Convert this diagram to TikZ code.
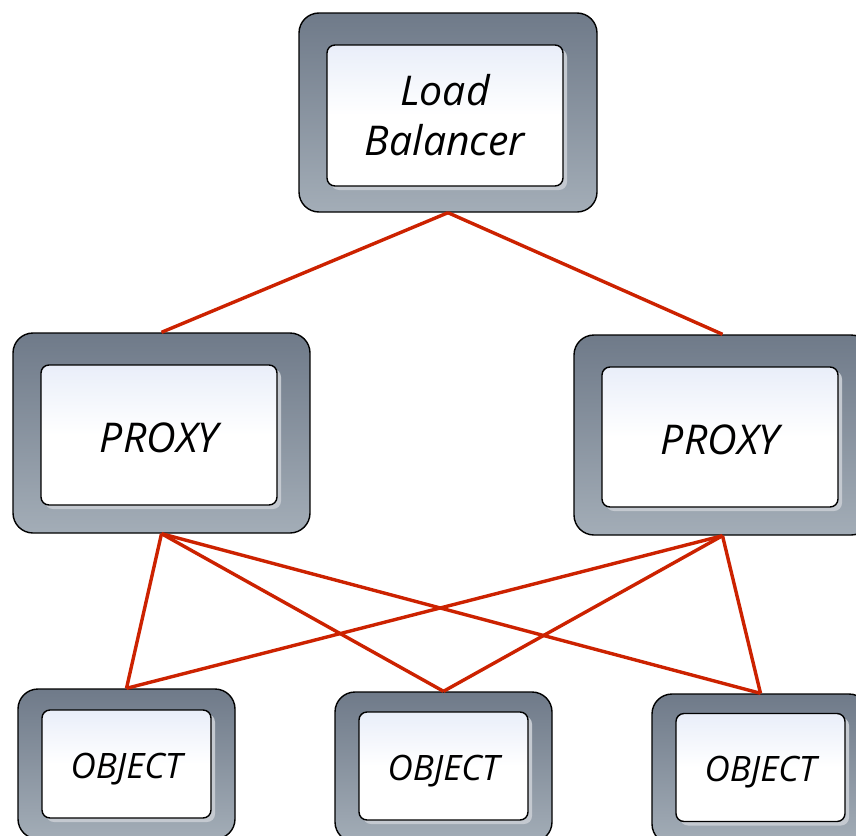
\documentclass[tikz,border=0pt]{standalone}
\usepackage{fontspec}
\setmainfont{Open Sans}
\usetikzlibrary{shadows}
\definecolor{outtop}{RGB}{111,122,137}
\definecolor{outbot}{RGB}{163,173,183}
\definecolor{intop}{RGB}{233,238,249}
\definecolor{linkred}{RGB}{204,34,0}
\definecolor{shad}{RGB}{196,201,208}
\newcommand{\lowertext}[2]{\raisebox{-#1}[\height][\depth]{#2}}
\tikzset{
  outerbox/.style={draw=black, line width=1.4pt, rounded corners=20pt,
    top color=outtop, bottom color=outbot, inner sep=0pt},
  innerbox/.style={draw=black, line width=1.4pt, rounded corners=8pt,
    top color=intop, bottom color=white, middle color=white,
    inner sep=0pt, align=center, font=\itshape,
    drop shadow={shadow xshift=4pt, shadow yshift=-4pt, fill=shad, opacity=1}},
  bigtext/.style={font=\itshape\fontsize{41}{50}\selectfont},
  smalltext/.style={font=\itshape\fontsize{35}{42}\selectfont},
  link/.style={draw=linkred, line width=3.4pt}
}
\begin{document}
\begin{tikzpicture}[x=1pt,y=-1pt]
\clip (0,0) rectangle (856,835);
\fill[white] (0,0) rectangle (856,835);
% outer boxes
\node[outerbox, minimum width=298pt, minimum height=199pt] (lb) at (448,112.5) {};
\node[outerbox, minimum width=297pt, minimum height=200pt] (p1) at (161.5,433) {};
\node[outerbox, minimum width=297pt, minimum height=200pt] (p2) at (722.5,435) {};
\node[outerbox, minimum width=217pt, minimum height=150pt] (o1) at (126.5,764) {};
\node[outerbox, minimum width=217pt, minimum height=150pt] (o2) at (443.5,767) {};
\node[outerbox, minimum width=217pt, minimum height=150pt] (o3) at (760.5,769) {};
% inner boxes
\node[innerbox, bigtext, minimum width=236pt, minimum height=141pt] (lbi) at (445,115.5) {Load\\Balancer};
\node[innerbox, bigtext, minimum width=236pt, minimum height=140pt] (p1i) at (159,435) {\lowertext{3pt}{PROXY}};
\node[innerbox, bigtext, minimum width=236pt, minimum height=140pt] (p2i) at (720,437) {\lowertext{3pt}{PROXY}};
\node[innerbox, smalltext, minimum width=169pt, minimum height=108pt] (o1i) at (126.5,764) {\lowertext{5pt}{OBJECT}};
\node[innerbox, smalltext, minimum width=169pt, minimum height=108pt] (o2i) at (443.5,766) {\lowertext{5pt}{OBJECT}};
\node[innerbox, smalltext, minimum width=169pt, minimum height=108pt] (o3i) at (760.5,767.5) {\lowertext{5pt}{OBJECT}};
% connectors
\draw[link] (lb.south) -- (p1.north);
\draw[link] (lb.south) -- (p2.north);
\draw[link] (p1.south) -- (o1.north);
\draw[link] (p1.south) -- (o2.north);
\draw[link] (p1.south) -- (o3.north);
\draw[link] (p2.south) -- (o1.north);
\draw[link] (p2.south) -- (o2.north);
\draw[link] (p2.south) -- (o3.north);
\end{tikzpicture}
\end{document}
